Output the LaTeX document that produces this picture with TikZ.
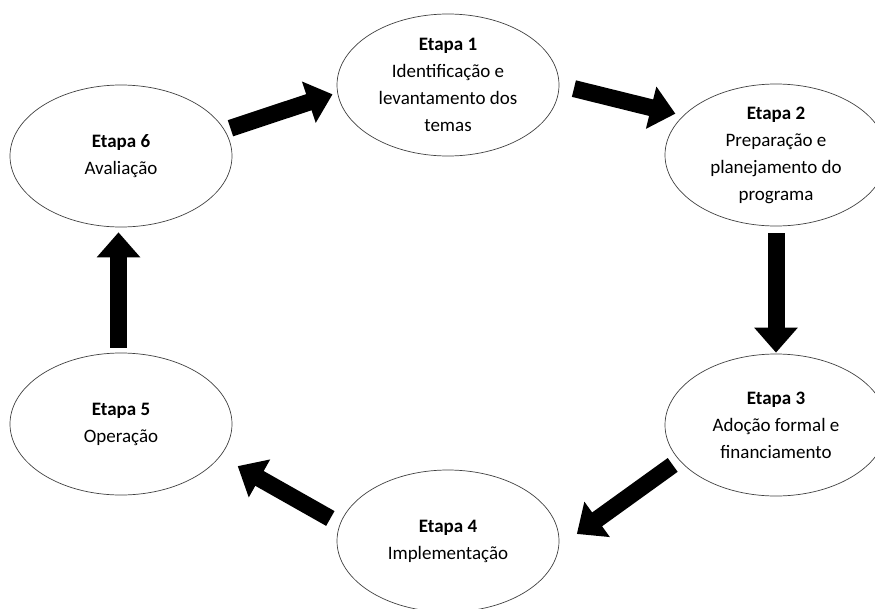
\documentclass[tikz,border=0pt]{standalone}
\usepackage{fontspec}
\setmainfont{Carlito}
\usetikzlibrary{shapes.geometric, arrows.meta}

\begin{document}
\begin{tikzpicture}[
    x=1pt, y=-1pt,
    stage/.style={ellipse, minimum width=222pt, minimum height=142pt, inner sep=0pt, align=center, draw=black!75, line width=0.7pt, font=\fontsize{19}{27}\selectfont},
    arrow/.style={line width=17pt, -{Triangle[width=42pt,length=25pt]}},
]
    \useasboundingbox (0,0) rectangle (875,608);

    % stages of the cycle
    \node (stage1) [stage] at (448,85) {\textbf{Etapa 1}\\Identificação e\\levantamento dos\\temas};
    \node (stage2) [stage] at (776,155) {\textbf{Etapa 2}\\Preparação e\\planejamento do\\programa};
    \node (stage3) [stage] at (776,425) {\textbf{Etapa 3}\\Adoção formal e\\financiamento};
    \node (stage4) [stage] at (448,541) {\textbf{Etapa 4}\\Implementação};
    \node (stage5) [stage] at (121,424) {\textbf{Etapa 5}\\Operação};
    \node (stage6) [stage] at (121,156) {\textbf{Etapa 6}\\Avaliação};

    % block arrows between stages
    \draw [arrow, shorten <=6pt, shorten >=5pt] (stage6.14) -- (stage1.184);
    \draw [arrow, shorten <=15pt, shorten >=8pt] (stage1.0) -- (stage2.157);
    \draw [arrow, shorten <=7pt, shorten >=1pt] (stage2.270) -- (stage3.90);
    \draw [arrow, shorten <=8pt, shorten >=22pt] (stage3.200) -- (stage4.-3);
    \draw [arrow, shorten <=11pt, shorten >=20pt] (stage4.171) -- (stage5.-18);
    \draw [arrow, shorten <=5pt, shorten >=5pt] (stage5.92) -- (stage6.268);

\end{tikzpicture}
\end{document}
